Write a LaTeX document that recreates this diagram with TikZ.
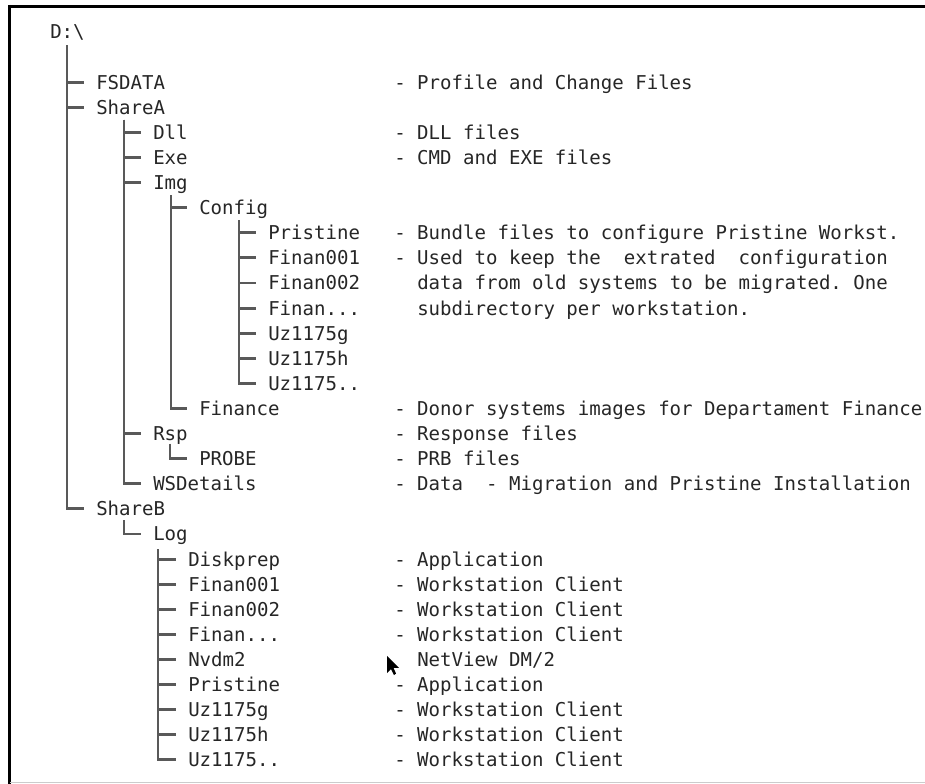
\documentclass[tikz,border=0pt]{standalone}
\usepackage{fontspec}
\setmonofont{DejaVu Sans Mono}

\begin{document}
\begin{tikzpicture}[x=0.75pt, y=-18.825pt,
    dirname/.style={anchor=west, inner sep=0pt, text height=10.4pt, text depth=0pt,
                    font=\ttfamily\fontsize{14.3pt}{17pt}\selectfont, text=black!85},
    dirnote/.style={dirname},
    tree/.style={draw=black!65, line width=2.2pt, shorten >=9pt}
  ]
  \useasboundingbox (0,-1.275) rectangle (925,29.96);

  % frame of the window
  \draw[line width=2.25pt] (8,-1.016) -- (925,-1.016);
  \draw[line width=2.25pt] (9,-1.08) -- (9,29.96);
  \draw[black!20, line width=0.75pt] (10,29.9) -- (925,29.9);

  % directory names
  \node[dirname] (root) at (50,0) {D:\textbackslash};
  \node[dirname] (fsdata) at (96,2) {FSDATA};
  \node[dirname] (sharea) at (96,3) {ShareA};
  \node[dirname] (dll) at (153,4) {Dll};
  \node[dirname] (exe) at (153,5) {Exe};
  \node[dirname] (img) at (153,6) {Img};
  \node[dirname] (config) at (199,7) {Config};
  \node[dirname] (pristine) at (268,8) {Pristine};
  \node[dirname] (finan1) at (268,9) {Finan001};
  \node[dirname] (finan2) at (268,10) {Finan002};
  \node[dirname] (finanx) at (268,11) {Finan...};
  \node[dirname] (uzg) at (268,12) {Uz1175g};
  \node[dirname] (uzh) at (268,13) {Uz1175h};
  \node[dirname] (uzx) at (268,14) {Uz1175..};
  \node[dirname] (finance) at (199,15) {Finance};
  \node[dirname] (rsp) at (153,16) {Rsp};
  \node[dirname] (probe) at (199,17) {PROBE};
  \node[dirname] (wsdetails) at (153,18) {WSDetails};
  \node[dirname] (shareb) at (96,19) {ShareB};
  \node[dirname] (log) at (153,20) {Log};
  \node[dirname] (diskprep) at (188,21) {Diskprep};
  \node[dirname] (lfinan1) at (188,22) {Finan001};
  \node[dirname] (lfinan2) at (188,23) {Finan002};
  \node[dirname] (lfinanx) at (188,24) {Finan...};
  \node[dirname] (nvdm) at (188,25) {Nvdm2};
  \node[dirname] (lpristine) at (188,26) {Pristine};
  \node[dirname] (luzg) at (188,27) {Uz1175g};
  \node[dirname] (luzh) at (188,28) {Uz1175h};
  \node[dirname] (luzx) at (188,29) {Uz1175..};

  % notes
  \node[dirnote] (n-fsdata) at (394,2) {- Profile and Change Files};
  \node[dirnote] (n-dll) at (394,4) {- DLL files};
  \node[dirnote] (n-exe) at (394,5) {- CMD and EXE files};
  \node[dirnote] (n-pristine) at (394,8) {- Bundle files to configure Pristine Workst.};
  \node[dirnote] (n-finan1) at (394,9) {- Used to keep the\ \ extrated\ \ configuration};
  \node[dirnote] (n-finan2) at (417,10) {data from old systems to be migrated. One};
  \node[dirnote] (n-finanx) at (417,11) {subdirectory per workstation.};
  \node[dirnote] (n-finance) at (394,15) {- Donor systems images for Departament Finance};
  \node[dirnote] (n-rsp) at (394,16) {- Response files};
  \node[dirnote] (n-probe) at (394,17) {- PRB files};
  \node[dirnote] (n-wsdetails) at (394,18) {- Data\ \ - Migration and Pristine Installation};
  \node[dirnote] (n-diskprep) at (394,21) {- Application};
  \node[dirnote] (n-lfinan1) at (394,22) {- Workstation Client};
  \node[dirnote] (n-lfinan2) at (394,23) {- Workstation Client};
  \node[dirnote] (n-lfinanx) at (394,24) {- Workstation Client};
  \node[dirnote] (n-nvdm) at (417,25) {NetView DM/2};
  \node[dirnote] (n-lpristine) at (394,26) {- Application};
  \node[dirnote] (n-luzg) at (394,27) {- Workstation Client};
  \node[dirnote] (n-luzh) at (394,28) {- Workstation Client};
  \node[dirnote] (n-luzx) at (394,29) {- Workstation Client};

  % mouse pointer
  \fill[black] (387,24.86) -- (387,25.54) -- (391,25.38) -- (394,25.62)
    -- (396,25.56) -- (393.5,25.33) -- (399,25.33) -- cycle;

  % tree lines
  \coordinate (rootT) at (67,0.52);
  \coordinate (shareaT) at (124,3.5);
  \coordinate (imgT) at (171,6.5);
  \coordinate (configT) at (239,7.5);
  \coordinate (rspT) at (170,16.4);
  \coordinate (sharebT) at (124,19.45);
  \coordinate (logT) at (158,20.6);

  \draw[tree] (rootT) |- (fsdata);
  \draw[tree] (rootT) |- (sharea);
  \draw[tree] (rootT) |- (shareb);
  \draw[tree] (shareaT) |- (dll);
  \draw[tree] (shareaT) |- (exe);
  \draw[tree] (shareaT) |- (img);
  \draw[tree] (shareaT) |- (rsp);
  \draw[tree] (shareaT) |- (wsdetails);
  \draw[tree] (imgT) |- (config);
  \draw[tree] (imgT) |- (finance);
  \draw[tree] (configT) |- (pristine);
  \draw[tree] (configT) |- (finan1);
  \draw[tree] (configT) |- (finan2);
  \draw[tree] (configT) |- (finanx);
  \draw[tree] (configT) |- (uzg);
  \draw[tree] (configT) |- (uzh);
  \draw[tree] (configT) |- (uzx);
  \draw[tree] (rspT) |- (probe);
  \draw[tree] (sharebT) |- (log);
  \draw[tree] (logT) |- (diskprep);
  \draw[tree] (logT) |- (lfinan1);
  \draw[tree] (logT) |- (lfinan2);
  \draw[tree] (logT) |- (lfinanx);
  \draw[tree] (logT) |- (nvdm);
  \draw[tree] (logT) |- (lpristine);
  \draw[tree] (logT) |- (luzg);
  \draw[tree] (logT) |- (luzh);
  \draw[tree] (logT) |- (luzx);

\end{tikzpicture}
\end{document}
